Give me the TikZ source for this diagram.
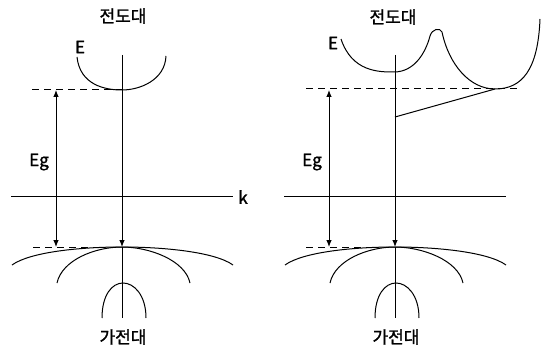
\documentclass[tikz,border=0pt]{standalone}
\usepackage{fontspec}
\setmainfont{Noto Sans CJK KR}[FakeBold=1.5]
\usetikzlibrary{arrows.meta}
\tikzset{
  band/.style={line width=1pt},
  level/.style={line width=1pt, dash pattern=on 7pt off 5pt},
  downarrow/.style={line width=0.9pt, -{Latex[length=7pt,width=5.5pt]}},
  gaparrow/.style={line width=0.9pt, {Latex[length=7pt,width=5.5pt]}-{Latex[length=7pt,width=5.5pt]}},
  lbl/.style={font=\fontsize{17}{20}\selectfont, inner sep=0pt},
}
% axis, gap arrow and valence bands (same in both panels)
\newcommand{\lowerpart}[1]{%
  \coordinate (#1axl) at (11,196);
  \coordinate (#1axr) at (233,196);
  \draw[band] (#1axl) -- (#1axr);
  \coordinate (#1ctop) at (122,55);
  \coordinate (#1vtop) at (122,247);
  \coordinate (#1cbot) at (122,318);
  \draw[downarrow] (#1ctop) -- (#1vtop);
  \draw[band] (#1vtop) -- (#1cbot);
  \coordinate (#1gtop) at (56,90);
  \coordinate (#1gbot) at (56,247);
  \draw[gaparrow] (#1gtop) -- (#1gbot);
  \node[lbl] (#1eg) at (39,162) {Eg};
  \coordinate (#1vl) at (33,247);
  \draw[level] (#1vl) -- (95,247);
  % valence bands
  \draw[band] (12,265) .. controls (30,252) and (80,247) .. (#1vtop)
              .. controls (164,247) and (215,252) .. (233,265);
  \draw[band] (57,283) .. controls (62,260) and (95,247) .. (#1vtop)
              .. controls (149,247) and (185,260) .. (190,283);
  \draw[band] (102,318) .. controls (102,295) and (112,283) .. (123,283)
              .. controls (134,283) and (146,295) .. (146,318);
  \node[lbl] (#1vb) at (123,337) {가전대};
}

\begin{document}
\begin{tikzpicture}[x=1pt,y=-1pt]
  \useasboundingbox (0,0) rectangle (546,350);

  % direct gap
  \begin{scope}
    \node[lbl] (lcb) at (123,16) {전도대};
    \node[lbl] (lE) at (80,47) {E};
    \coordinate (lmin) at (122,90);
    \draw[band] (77,57) .. controls (80,85) and (105,90) .. (lmin)
                .. controls (140,90) and (165,80) .. (166,56);
    \coordinate (lcl) at (32,90);
    \draw[level] (lcl) -- (lmin);
    \lowerpart{l}
    \node[lbl] (lk) at (243,197) {k};
  \end{scope}

  % indirect gap
  \begin{scope}[xshift=273pt]
    \node[lbl] (rcb) at (120,17) {전도대};
    \node[lbl] (rE) at (60,43) {E};
    \coordinate (rvmin) at (121,72);
    \coordinate (rmin) at (222,89);
    \draw[band] (68,39) .. controls (79,72) and (106,72) .. (rvmin)
                .. controls (140,72) and (152,55) .. (157,36)
                .. controls (159,29) and (167,27) .. (169,32)
                .. controls (176,65) and (197,89) .. (rmin)
                .. controls (249,89) and (265,70) .. (267,19);
    \coordinate (rcl) at (33,89);
    \coordinate (rcr) at (245,89);
    \draw[level] (rcl) -- (rcr);
    \coordinate (rkink) at (122,117);
    \draw[band] (rkink) -- (rmin);
    \lowerpart{r}
  \end{scope}
\end{tikzpicture}
\end{document}
